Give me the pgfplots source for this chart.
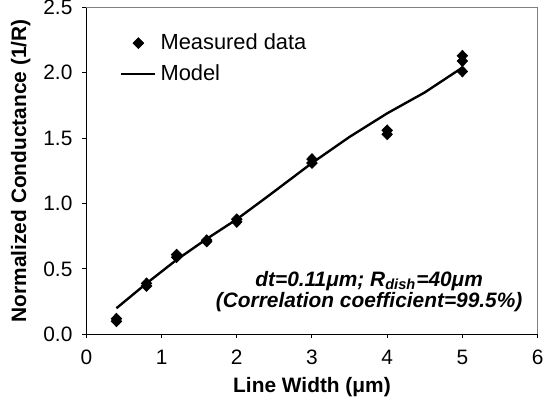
\documentclass[border=0pt]{standalone}
\usepackage{pgfplots}
\pgfplotsset{compat=1.18}
\usepackage{fontspec}
\setmainfont{Liberation Sans}

\begin{document}
\begin{tikzpicture}
  \definecolor{framegray}{RGB}{128,128,128}
  \begin{axis}[
    scale only axis,
    width=227pt, height=164.5pt,
    xmin=0, xmax=6, ymin=0, ymax=2.5,
    xtick={0,1,2,3,4,5,6},
    ytick={0,0.5,1,1.5,2,2.5},
    /pgf/number format/assume math mode=true,
    tick label style={font=\fontsize{10.5}{12}\selectfont},
    yticklabel style={xshift=-1.5pt, inner ysep=0pt, /pgf/number format/.cd, fixed, fixed zerofill, precision=1},
    xticklabel style={yshift=-2.5pt},
    tick align=outside,
    major tick length=2pt,
    tick style={black, line width=0.5pt},
    axis x line*=bottom, axis y line*=left,
    xlabel={\textbf{Line Width (μm)}},
    ylabel={\textbf{Normalized Conductance (1/R)}},
    label style={font=\fontsize{10.5}{12}\selectfont},
    xlabel style={yshift=0.5pt},
    ylabel style={inner ysep=5.5pt, yshift=-2.5pt},
    legend style={at={(0.061,0.945)}, anchor=north west, draw=none, fill=none,
      font=\fontsize{11}{13}\selectfont, row sep=2pt},
    legend cell align=left,
    clip=false,
  ]
  \draw[framegray, line width=0.6pt] (rel axis cs:0,1) -- (rel axis cs:1,1) -- (rel axis cs:1,0);
  \addplot[only marks, mark=diamond*, mark size=2.7pt, mark options={xscale=1.3}, black] coordinates {
    (0.4,0.10) (0.4,0.12)
    (0.8,0.37) (0.8,0.39)
    (1.2,0.59) (1.2,0.61)
    (1.6,0.71) (1.6,0.72)
    (2.0,0.86) (2.0,0.88)
    (3.0,1.31) (3.0,1.34)
    (4.0,1.53) (4.0,1.56)
    (5.0,2.01) (5.0,2.09) (5.0,2.13)
  };
  \addlegendentry{Measured data}
  \addplot[black, line width=1.2pt, no marks] coordinates {
    (0.4,0.20) (0.8,0.39) (1.2,0.57) (1.6,0.73) (2.0,0.88) (2.4,1.05)
    (3.0,1.31) (3.5,1.51) (4.0,1.69) (4.5,1.85) (5.0,2.04)
  };
  \addlegendentry{Model}
  \node[font=\fontsize{10.5}{10.5}\selectfont\bfseries\itshape, align=center] at (axis cs:3.76,0.33)
    {dt=0.11μm; R\textsubscript{dish}=40μm\\(Correlation coefficient=99.5\%)};
  \end{axis}
\end{tikzpicture}
\end{document}
